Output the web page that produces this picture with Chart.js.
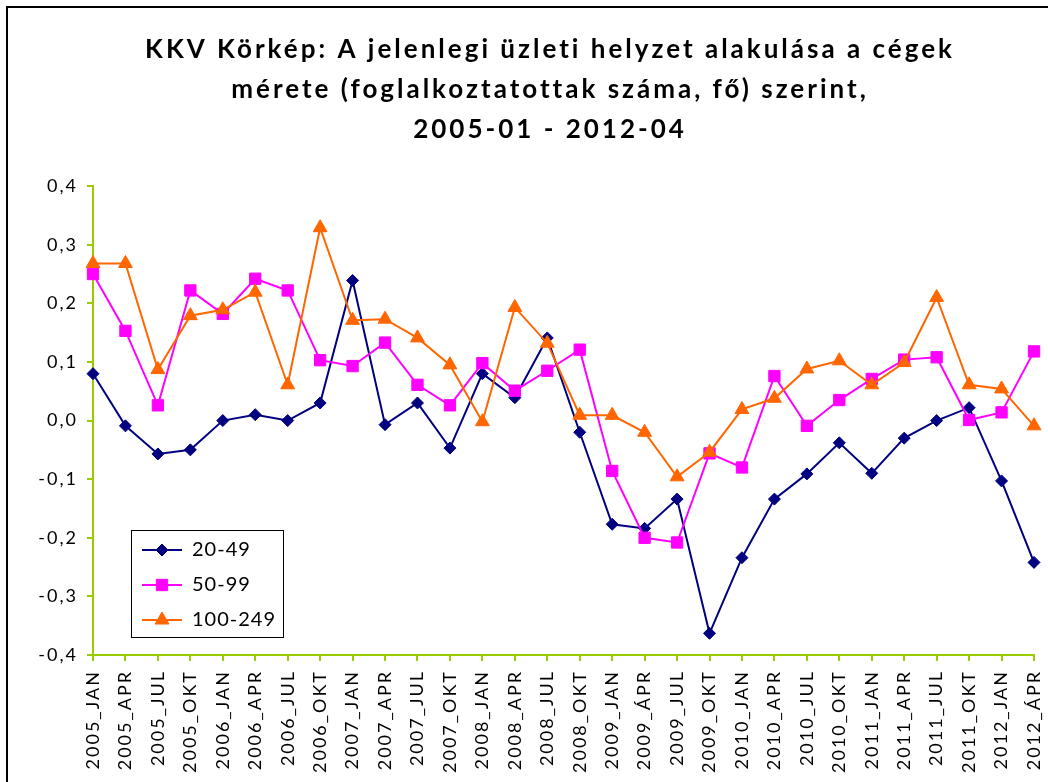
<!DOCTYPE html>
<html>
<head>
<meta charset="utf-8">
<script src="https://cdn.jsdelivr.net/npm/chart.js@4.4.1/dist/chart.umd.min.js"></script>
<style>
  html, body { margin: 0; padding: 0; background: #fff; }
  #wrap { position: relative; width: 1048px; height: 782px; overflow: hidden; }
  #chart { position: absolute; left: 0; top: 0; }
  #frame { position: absolute; left: 6px; top: 6px; width: 1200px; height: 1000px;
           border-left: 2px solid #000; border-top: 2px solid #000; pointer-events: none; }
</style>
</head>
<body>
<div id="wrap">
  <canvas id="chart" width="1048" height="782"></canvas>
  <div id="frame"></div>
</div>
<script>
const periods = [
  '2005_JAN', '2005_APR', '2005_JUL', '2005_OKT',
  '2006_JAN', '2006_APR', '2006_JUL', '2006_OKT',
  '2007_JAN', '2007_APR', '2007_JUL', '2007_OKT',
  '2008_JAN', '2008_APR', '2008_JUL', '2008_OKT',
  '2009_JAN', '2009_ÁPR', '2009_JUL', '2009_OKT',
  '2010_JAN', '2010_APR', '2010_JUL', '2010_OKT',
  '2011_JAN', '2011_APR', '2011_JUL', '2011_OKT',
  '2012_JAN', '2012_ÁPR',
];

// foglalkoztatottak száma szerinti csoportok
const size20to49 = [
  0.08, -0.009, -0.057, -0.05, 0.0, 0.01, 0.0, 0.03,
  0.239, -0.007, 0.03, -0.047, 0.08, 0.039, 0.141, -0.02,
  -0.177, -0.184, -0.134, -0.363, -0.234, -0.134, -0.091, -0.038,
  -0.09, -0.03, 0.0, 0.022, -0.103, -0.242,
];
const size50to99 = [
  0.25, 0.153, 0.026, 0.222, 0.182, 0.242, 0.222, 0.103,
  0.093, 0.133, 0.061, 0.026, 0.098, 0.051, 0.085, 0.121,
  -0.086, -0.2, -0.208, -0.056, -0.08, 0.076, -0.009, 0.035,
  0.071, 0.104, 0.108, 0.001, 0.014, 0.118,
];
const size100to249 = [
  0.268, 0.268, 0.087, 0.179, 0.189, 0.219, 0.061, 0.329,
  0.171, 0.173, 0.141, 0.095, -0.002, 0.193, 0.132, 0.009,
  0.009, -0.02, -0.096, -0.054, 0.019, 0.038, 0.088, 0.102,
  0.061, 0.099, 0.21, 0.061, 0.054, -0.009,
];

const yMin = -0.4;
const yMax = 0.4;
const yStep = 0.1;

const titleLines = [
  'KKV Körkép: A jelenlegi üzleti helyzet alakulása a cégek',
  'mérete (foglalkoztatottak száma, fő) szerint,',
  '2005-01 - 2012-04',
];

const axisGreen = '#99CC00';
const fontFamily = 'Lato, "Open Sans", sans-serif';
const titleCenterX = 550;

// line + marker sample for the legend, like the spreadsheet legend
function legendIcon(ds) {
  const c = document.createElement('canvas');
  c.width = 40;
  c.height = 20;
  const ctx = c.getContext('2d');
  ctx.strokeStyle = ds.borderColor;
  ctx.lineWidth = 2;
  ctx.beginPath();
  ctx.moveTo(0, 10);
  ctx.lineTo(40, 10);
  ctx.stroke();
  ctx.fillStyle = ds.backgroundColor;
  ctx.lineWidth = 1;
  Chart.helpers.drawPoint(ctx, {
    pointStyle: ds.pointStyle,
    radius: ds.pointRadius,
    borderWidth: 1,
    rotation: 0,
  }, 20, 10);
  return c;
}

// draw a layout box with its own letter spacing
function spaced(chart, box, px) {
  if (box._spaced) return;
  const draw = box.draw.bind(box);
  box.draw = function (area) {
    const ctx = chart.ctx;
    const prev = ctx.letterSpacing;
    ctx.letterSpacing = px;
    draw(area);
    ctx.letterSpacing = prev;
  };
  box._spaced = true;
}

// legend inside the plot (bottom left, framed), title a bit off-centre, spaced text
const layoutTweaks = {
  id: 'layoutTweaks',
  afterLayout(chart) {
    const lg = chart.legend;
    const area = chart.chartArea;
    const left = area.left + 38;
    const bottom = area.bottom - 18;
    lg._frame = { left: left, top: bottom - 107, width: 152, height: 107 };
    lg.left = left - 4;
    lg.right = lg.left + 152;
    lg.width = 152;
    lg.top = lg._frame.top - 5;
    lg.bottom = lg.top + 200;
    lg.height = 200;
    spaced(chart, lg, '1px');

    const t = chart.titleBlock;
    const dx = titleCenterX - (t.left + t.right) / 2;
    t.left += dx;
    t.right += dx;
    spaced(chart, t, '3px');
  },
  beforeDraw(chart) {
    const ctx = chart.ctx;
    ctx.letterSpacing = '2px';
    const f = chart.legend._frame;
    if (!f) return;
    ctx.save();
    ctx.fillStyle = '#fff';
    ctx.fillRect(f.left, f.top, f.width, f.height);
    ctx.strokeStyle = '#000';
    ctx.lineWidth = 1;
    ctx.strokeRect(f.left + 0.5, f.top + 0.5, f.width, f.height);
    ctx.restore();
  },
  afterDraw(chart) {
    chart.ctx.letterSpacing = '0px';
  },
};

const datasets = [
  {
    label: '20-49',
    data: size20to49,
    borderColor: '#000080',
    backgroundColor: '#000080',
    pointStyle: 'rectRot',
    pointRadius: 6,
    order: 3,
  },
  {
    label: '50-99',
    data: size50to99,
    borderColor: '#FF00FF',
    backgroundColor: '#FF00FF',
    pointStyle: 'rect',
    pointRadius: 8,
    order: 2,
  },
  {
    label: '100-249',
    data: size100to249,
    borderColor: '#FF6600',
    backgroundColor: '#FF6600',
    pointStyle: 'triangle',
    pointRadius: 8,
    order: 1,
  },
];
datasets.forEach((ds) => {
  ds.borderWidth = 2;
  ds.pointBorderWidth = 1;
  ds.pointHoverRadius = ds.pointRadius;
  ds.tension = 0;
  ds.fill = false;
  ds.icon = legendIcon(ds);
});

Chart.defaults.font.family = fontFamily;
Chart.defaults.color = '#000';

new Chart(document.getElementById('chart'), {
  type: 'line',
  data: {
    labels: periods,
    datasets: datasets,
  },
  options: {
    responsive: false,
    animation: false,
    devicePixelRatio: 1,
    layout: {
      padding: { left: 7, right: 14, top: 0, bottom: 0 },
    },
    plugins: {
      title: {
        display: true,
        text: titleLines,
        color: '#000',
        font: { size: 26, weight: 'bold', lineHeight: 1.54 },
        padding: { top: 30, bottom: 36 },
      },
      legend: {
        position: 'chartArea',
        align: 'start',
        labels: {
          usePointStyle: true,
          pointStyleWidth: 40,
          padding: 15,
          color: '#000',
          font: { size: 20 },
          generateLabels(chart) {
            return chart.data.datasets.map((ds, i) => ({
              text: ds.label,
              fillStyle: ds.backgroundColor,
              strokeStyle: ds.borderColor,
              lineWidth: 0,
              pointStyle: ds.icon,
              fontColor: '#000',
              hidden: false,
              datasetIndex: i,
            }));
          },
        },
      },
      tooltip: { enabled: false },
    },
    scales: {
      x: {
        offset: false,
        grid: {
          drawOnChartArea: false,
          drawTicks: true,
          tickLength: 6,
          color: axisGreen,
          lineWidth: 2,
        },
        border: { color: axisGreen, width: 2 },
        ticks: {
          autoSkip: false,
          minRotation: 90,
          maxRotation: 90,
          padding: 9,
          color: '#000',
          font: { size: 18 },
        },
        afterFit(scale) {
          scale.height = 127;
          scale.paddingLeft = 0;
          scale.paddingRight = 0;
        },
      },
      y: {
        min: yMin,
        max: yMax,
        grid: {
          drawOnChartArea: false,
          drawTicks: true,
          tickLength: 6,
          color: axisGreen,
          lineWidth: 2,
        },
        border: { color: axisGreen, width: 2 },
        ticks: {
          stepSize: yStep,
          padding: 9,
          color: '#000',
          font: { size: 18 },
          callback(value) {
            let v = Math.round(value * 10) / 10;
            if (Math.abs(v) < 1e-9) v = 0;
            return v.toFixed(1).replace('.', ',');
          },
        },
        afterFit(scale) {
          scale.width = 86;
        },
      },
    },
  },
  plugins: [layoutTweaks],
});
</script>
</body>
</html>
